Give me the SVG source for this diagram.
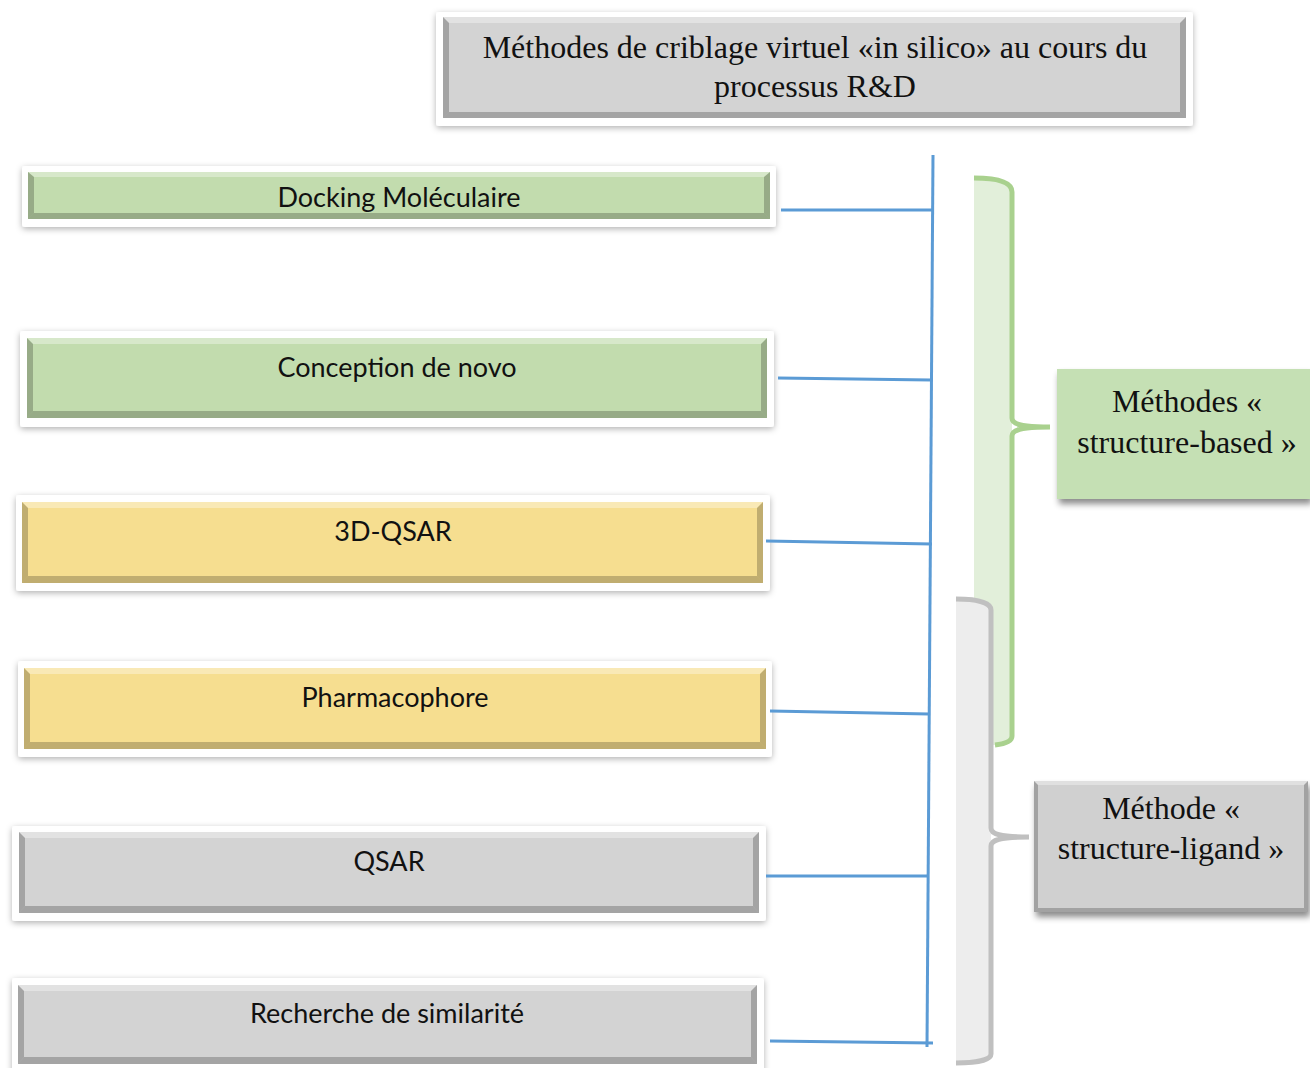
<svg xmlns="http://www.w3.org/2000/svg" width="1310" height="1068" viewBox="0 0 1310 1068">
<style>
.frame{fill:#ffffff;}
.green{fill:#c2dcae;}
.yellow{fill:#f6de90;}
.gray{fill:#d3d3d3;}
.dk{fill:#000;opacity:0.22;}
.lt{fill:#fff;opacity:0.35;}
.lbl{font-family:Lato,"Open Sans","Liberation Sans",sans-serif;font-size:27px;fill:#111;text-anchor:middle;}
.ser{font-family:"Liberation Serif","Times New Roman",serif;font-size:32px;fill:#111;text-anchor:middle;}
.conn{stroke:#5b9bd5;stroke-width:3;fill:none;}
</style>
<defs>
<filter id="sh" x="-5%" y="-20%" width="110%" height="150%">
<feDropShadow dx="0" dy="2" stdDeviation="3" flood-color="#000" flood-opacity="0.3"/>
</filter>
<filter id="sh2" x="-5%" y="-10%" width="115%" height="130%">
<feDropShadow dx="2" dy="5" stdDeviation="3" flood-color="#000" flood-opacity="0.45"/>
</filter>
</defs>
<rect width="1310" height="1068" fill="#fff"/>

<g id="title">
<rect class="frame" x="436" y="12" width="757" height="114" rx="3" filter="url(#sh)"/>
<rect class="gray" x="443" y="17" width="743" height="101"/>
<polygon class="lt" points="443,17 1186,17 1180,23 449,23"/>
<polygon class="dk" points="443,118 1186,118 1180,112 449,112"/>
<polygon class="dk" points="443,17 449,23 449,112 443,118" opacity="0.12"/>
<polygon class="dk" points="1186,17 1180,23 1180,112 1186,118" opacity="0.12"/>
<text class="ser" x="815" y="58">Méthodes de criblage virtuel «in silico» au cours du</text>
<text class="ser" x="815" y="97">processus R&amp;D</text>
</g>

<g id="docking">
<rect class="frame" x="22" y="166" width="754" height="61" rx="3" filter="url(#sh)"/>
<rect class="green" x="28" y="172" width="742" height="47"/>
<polygon class="lt" points="28,172 770,172 764,177 34,177"/>
<polygon class="dk" points="28,219 770,219 764,213 34,213"/>
<polygon class="dk" points="28,172 34,177 34,213 28,219" opacity="0.12"/>
<polygon class="dk" points="770,172 764,177 764,213 770,219" opacity="0.12"/>
<text class="lbl" x="399" y="207">Docking Moléculaire</text>
</g>

<g id="denovo">
<rect class="frame" x="20" y="331" width="754" height="96" rx="3" filter="url(#sh)"/>
<rect class="green" x="27" y="338" width="740" height="80"/>
<polygon class="lt" points="27,338 767,338 761,344 33,344"/>
<polygon class="dk" points="27,418 767,418 761,411 33,411"/>
<polygon class="dk" points="27,338 33,344 33,411 27,418" opacity="0.12"/>
<polygon class="dk" points="767,338 761,344 761,411 767,418" opacity="0.12"/>
<text class="lbl" x="397" y="377">Conception de novo</text>
</g>

<g id="qsar3d">
<rect class="frame" x="16" y="495" width="754" height="96" rx="3" filter="url(#sh)"/>
<rect class="yellow" x="22" y="502" width="741" height="81"/>
<polygon class="lt" points="22,502 763,502 757,508 28,508"/>
<polygon class="dk" points="22,583 763,583 757,576 28,576"/>
<polygon class="dk" points="22,502 28,508 28,576 22,583" opacity="0.12"/>
<polygon class="dk" points="763,502 757,508 757,576 763,583" opacity="0.12"/>
<text class="lbl" x="393" y="541">3D-QSAR</text>
</g>

<g id="pharmacophore">
<rect class="frame" x="18" y="661" width="754" height="96" rx="3" filter="url(#sh)"/>
<rect class="yellow" x="24" y="668" width="742" height="81"/>
<polygon class="lt" points="24,668 766,668 760,674 30,674"/>
<polygon class="dk" points="24,749 766,749 760,742 30,742"/>
<polygon class="dk" points="24,668 30,674 30,742 24,749" opacity="0.12"/>
<polygon class="dk" points="766,668 760,674 760,742 766,749" opacity="0.12"/>
<text class="lbl" x="395" y="707">Pharmacophore</text>
</g>

<g id="qsar">
<rect class="frame" x="12" y="826" width="754" height="95" rx="3" filter="url(#sh)"/>
<rect class="gray" x="19" y="832" width="740" height="81"/>
<polygon class="lt" points="19,832 759,832 753,838 25,838"/>
<polygon class="dk" points="19,913 759,913 753,906 25,906"/>
<polygon class="dk" points="19,832 25,838 25,906 19,913" opacity="0.12"/>
<polygon class="dk" points="759,832 753,838 753,906 759,913" opacity="0.12"/>
<text class="lbl" x="389" y="871">QSAR</text>
</g>

<g id="similarite">
<rect class="frame" x="12" y="978" width="752" height="95" rx="3" filter="url(#sh)"/>
<rect class="gray" x="18" y="985" width="739" height="79"/>
<polygon class="lt" points="18,985 757,985 751,991 24,991"/>
<polygon class="dk" points="18,1064 757,1064 751,1057 24,1057"/>
<polygon class="dk" points="18,985 24,991 24,1057 18,1064" opacity="0.12"/>
<polygon class="dk" points="757,985 751,991 751,1057 757,1064" opacity="0.12"/>
<text class="lbl" x="387" y="1023">Recherche de similarité</text>
</g>

<g id="connectors">
<line class="conn" x1="933" y1="155" x2="927" y2="1047"/>
<line class="conn" x1="781" y1="210" x2="933" y2="210"/>
<line class="conn" x1="778" y1="378" x2="931" y2="380"/>
<line class="conn" x1="766" y1="541" x2="932" y2="544"/>
<line class="conn" x1="770" y1="711" x2="929" y2="714"/>
<line class="conn" x1="766" y1="876" x2="928" y2="876"/>
<line class="conn" x1="770" y1="1041" x2="933" y2="1043"/>
</g>

<g id="brace-structure">
<path d="M974,178 C995,178 1012,181 1012,190 L1012,742 C1005,744 998,745 995,745 L974,745 Z" fill="#e2efda"/>
<path d="M974,178 C995,178 1012,181 1012,192 L1012,418 C1012,424 1020,427 1050,427 C1020,427 1012,430 1012,436 L1012,736 C1012,742 1004,744 995,745" fill="none" stroke="#a9d18e" stroke-width="5"/>
</g>

<g id="brace-ligand">
<path d="M956,599 C975,599 991,602 991,608 L991,1054 C991,1060 975,1063 956,1063 Z" fill="#ededed"/>
<path d="M956,599 C975,599 991,602 991,610 L991,828 C991,834 1000,837 1029,837 C1000,837 991,840 991,846 L991,1054 C991,1060 975,1063 956,1063" fill="none" stroke="#c0c0c0" stroke-width="5"/>
</g>

<g id="structure-based">
<rect x="1057" y="369" width="253" height="130" fill="#c5e0b4" filter="url(#sh2)"/>
<text class="ser" x="1187" y="412">Méthodes «</text>
<text class="ser" x="1187" y="453">structure-based »</text>
</g>

<g id="structure-ligand">
<rect x="1034" y="781" width="274" height="131" fill="#d0d0d0" filter="url(#sh2)"/>
<polygon class="lt" points="1034,781 1308,781 1304,785 1038,785"/>
<polygon class="dk" points="1034,912 1308,912 1304,908 1038,908" opacity="0.12"/>
<polygon class="dk" points="1034,781 1038,785 1038,908 1034,912" opacity="0.22"/>
<polygon class="dk" points="1308,781 1304,785 1304,908 1308,912" opacity="0.12"/>
<text class="ser" x="1171" y="819">Méthode «</text>
<text class="ser" x="1171" y="859">structure-ligand »</text>
</g>
</svg>
